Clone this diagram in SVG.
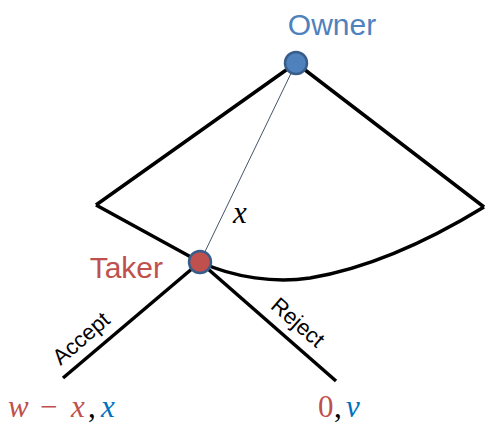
<svg xmlns="http://www.w3.org/2000/svg" width="485" height="426" viewBox="0 0 485 426">
<style>
.thick{fill:none;stroke:#000;stroke-width:3.5;stroke-linejoin:miter}
.thin{fill:none;stroke:#44546A;stroke-width:1}
.lbl{font-family:"Liberation Sans",Arial,sans-serif}
.math{font-family:"Liberation Serif","DejaVu Serif",serif;font-style:italic}
</style>
<rect width="485" height="426" fill="#fff"/>
<g id="connectors">
<path class="thick" d="M96,205 L296,63 L484,207"/>
<path class="thick" d="M96,205 L200,262 C235,278 275,283 310,278 C370,268 430,240 484,207"/>
<line class="thin" x1="296" y1="63" x2="200" y2="262"/>
<line class="thick" x1="200" y1="262" x2="63" y2="378"/>
<line class="thick" x1="200" y1="262" x2="336" y2="381"/>
<text class="math" x="233" y="223" font-size="31">x</text>
<text class="lbl" font-size="22" transform="translate(86,344) rotate(-41)" text-anchor="middle">Accept</text>
<text class="lbl" font-size="22" transform="translate(293,328) rotate(41)" text-anchor="middle">Reject</text>
</g>
<g id="owner">
<circle cx="296" cy="63" r="11" fill="#4F81BD" stroke="#385D8A" stroke-width="2.5"/>
<text class="lbl" x="332" y="35" font-size="30" fill="#4F81BD" text-anchor="middle">Owner</text>
</g>
<g id="taker">
<circle cx="200" cy="262" r="11" fill="#C0504D" stroke="#385D8A" stroke-width="2.5"/>
<text class="lbl" x="163" y="278" font-size="30" fill="#C0504D" text-anchor="end">Taker</text>
</g>
<g id="payoff-accept">
<text y="417" font-size="31" class="math"><tspan x="8" fill="#C0504D">w</tspan><tspan x="40" fill="#C0504D" font-style="normal">−</tspan><tspan x="71" fill="#C0504D">x</tspan><tspan x="88" fill="#000" font-style="normal">,</tspan><tspan x="101" fill="#0070C0">x</tspan></text>
</g>
<g id="payoff-reject">
<text y="417" font-size="31" class="math"><tspan x="318" fill="#C0504D" font-style="normal">0</tspan><tspan x="334" fill="#000" font-style="normal">,</tspan><tspan x="346" fill="#0070C0">v</tspan></text>
</g>
</svg>
